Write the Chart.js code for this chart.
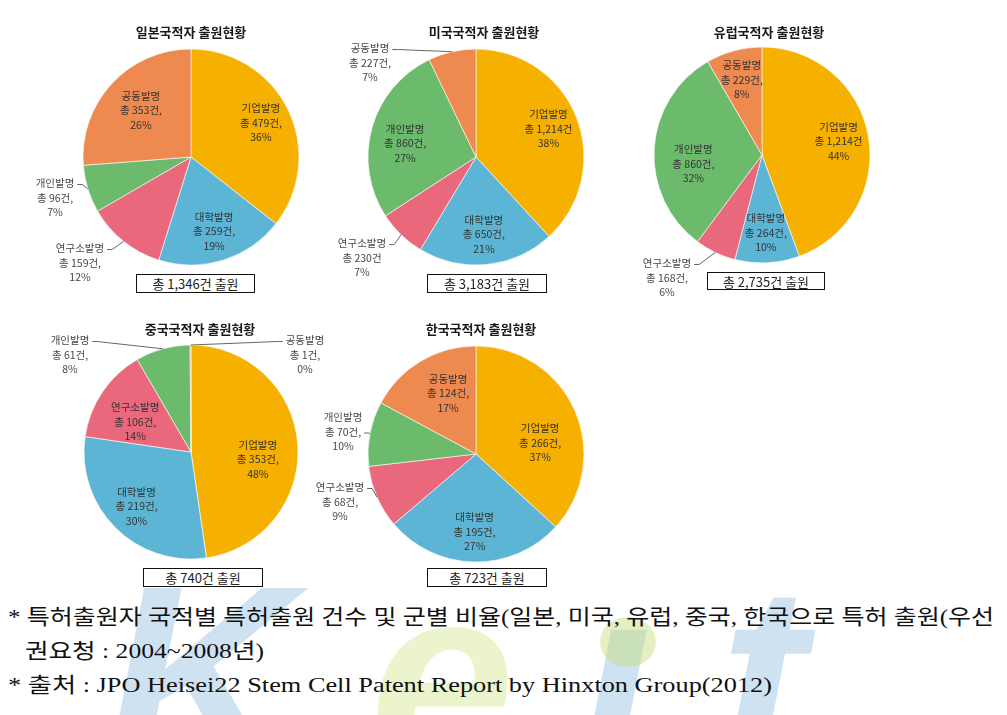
<!DOCTYPE html>
<html><head><meta charset="utf-8">
<script src="https://cdn.jsdelivr.net/npm/chart.js@4"></script>
<style>
body{margin:0;width:1007px;height:715px;background:#fff;position:relative;overflow:hidden;font-family:"Noto Sans CJK KR",sans-serif;}
canvas{position:absolute;z-index:2}
.box{position:absolute;border:1px solid #111;box-sizing:border-box;text-align:center;font-size:13px;color:#222;background:#fff;z-index:3;display:flex;align-items:center;justify-content:center;}
.cap{position:absolute;white-space:nowrap;font-family:"Liberation Serif","DejaVu Serif","Noto Sans CJK KR",serif;font-size:21px;line-height:24px;color:#111;transform-origin:0 0;z-index:3}
.wm{position:absolute;font-family:"Liberation Sans",sans-serif;font-weight:bold;font-style:italic;font-size:260px;line-height:260px;z-index:1}
</style></head>
<body>
<div class="wm" style="left:105px;top:547px;color:rgba(130,180,222,0.38)">K</div>
<div class="wm" style="left:370px;top:547px;color:rgba(205,228,130,0.4)">e</div>
<div class="wm" style="left:580px;top:547px;color:rgba(130,180,222,0.38)">ı</div>
<div style="position:absolute;z-index:1;left:600px;top:617px;width:56px;height:50px;border-radius:50%;background:rgba(195,222,120,0.45)"></div>
<div class="wm" style="left:720px;top:547px;color:rgba(130,180,222,0.38)">t</div>
<script>
// ---- data ----
const categories = ['기업발명','대학발명','연구소발명','개인발명','공동발명'];
const sliceColors = ['#F5B000','#5CB5D5','#E9687C','#6CBA6B','#EE8A4F'];
const chartTitles = ['일본국적자 출원현황','미국국적자 출원현황','유럽국적자 출원현황','중국국적자 출원현황','한국국적자 출원현황'];
const totalLabels = ['총 1,346건 출원','총 3,183건 출원','총 2,735건 출원','총 740건 출원','총 723건 출원'];
const japanValues = [479,259,159,96,353];
const japanPct = [36,19,12,7,26];
const usaValues = [1214,650,230,860,227];
const usaPct = [38,21,7,27,7];
const europeValues = [1214,264,168,860,229];
const europePct = [44,10,6,32,8];
const chinaValues = [353,219,106,61,1];
const chinaPct = [48,30,14,8,0];
const koreaValues = [266,195,68,70,124];
const koreaPct = [37,27,9,10,17];
const captionLines = [
  '* 특허출원자 국적별 특허출원 건수 및 군별 비율(일본, 미국, 유럽, 중국, 한국으로 특허 출원(우선',
  '권요청 : 2004~2008년)',
  '* 출처 : JPO Heisei22 Stem Cell Patent Report by Hinxton Group(2012)'
];

// ---- layout ----
const layouts = [
  {values:japanValues,pct:japanPct,x0:0,y0:0,w:330,h:300,cx:191,cy:157,r:108,titleY:32,titleDx:0,box:[136,274,119,19],
   sep:[',',',',',',',',','],outside:{3:[-136,41,0],2:[-111,106,0]},nudge:{4:[7,6]}},
  {values:usaValues,pct:usaPct,x0:330,y0:0,w:310,h:300,cx:476,cy:157,r:108,titleY:32,titleDx:8,box:[427,274,120,19],
   sep:['',',','',',',','],outside:{4:[-106,-94,0],2:[-114,101,0]},nudge:{3:[4,7]}},
  {values:europeValues,pct:europePct,x0:620,y0:0,w:387,h:300,cx:762,cy:155,r:108,titleY:32,titleDx:7,box:[707,272,118,18],
   sep:['',',',',',',',','],outside:{2:[-95,123,0]},nudge:{3:[9,13]}},
  {values:chinaValues,pct:chinaPct,x0:0,y0:300,w:330,h:300,cx:191,cy:452,r:107,titleY:329,titleDx:9,box:[143,568,120,19],
   sep:[',',',',',',',',','],outside:{3:[-121,-97,0],4:[114,-97,0]},nudge:{0:[-10,13],2:[8,13]}},
  {values:koreaValues,pct:koreaPct,x0:290,y0:300,w:350,h:300,cx:476,cy:454,r:108,titleY:329,titleDx:5,box:[427,568,120,19],
   sep:[',',',',',',',',','],outside:{3:[-133,-22,1],2:[-136,48,0]},nudge:{0:[-7,20],4:[12,6]}}
];

const LH = 14.5;
function makePlugin(L, title){
  return {
    id:'pieLabels',
    afterDraw(chart){
      const ctx = chart.ctx;
      const meta = chart.getDatasetMeta(0);
      ctx.save();
      const c0 = meta.data[0].getProps(['x','y'], true);
      ctx.textAlign='center'; ctx.textBaseline='middle';
      ctx.font = 'bold 13px "Noto Sans CJK KR"';
      ctx.fillStyle = '#1a1a1a';
      ctx.fillText(title, c0.x + L.titleDx, L.titleY - L.y0);
      ctx.font = '10.5px "Noto Sans CJK KR"';
      meta.data.forEach((arc,i)=>{
        const p = arc.getProps(['x','y','startAngle','endAngle','outerRadius'], true);
        const mid = (p.startAngle + p.endAngle)/2;
        const r = p.outerRadius;
        const v = chart.data.datasets[0].data[i];
        const lines = [chart.data.labels[i], '총 ' + v.toLocaleString('en-US') + '건' + L.sep[i], L.pct[i] + '%'];
        const out = L.outside[i];
        let bx, by;
        if(out){ bx = p.x + out[0]; by = p.y + out[1]; }
        else {
          bx = p.x + Math.cos(mid)*r*0.72; by = p.y + Math.sin(mid)*r*0.72;
          if(L.nudge[i]){ bx += L.nudge[i][0]; by += L.nudge[i][1]; }
        }
        ctx.fillStyle = out ? '#484848' : '#333';
        lines.forEach((t,j)=>ctx.fillText(t, bx, by + (j-1)*LH));
        if(out){
          const row = out[2];
          const w0 = ctx.measureText(lines[row]).width;
          const dir = out[0] < 0 ? 1 : -1;
          const ax = bx + dir*(w0/2 + 3), ay = by + (row-1)*LH + 1;
          const ex = p.x + Math.cos(mid)*r, ey = p.y + Math.sin(mid)*r;
          ctx.strokeStyle = '#666'; ctx.lineWidth = 1;
          ctx.beginPath(); ctx.moveTo(ax, ay); ctx.lineTo(ax + dir*5, ay); ctx.lineTo(ex, ey); ctx.stroke();
        }
      });
      ctx.restore();
    }
  };
}

layouts.forEach((L, k)=>{
  const cv = document.createElement('canvas');
  cv.width = L.w; cv.height = L.h;
  cv.style.left = L.x0 + 'px'; cv.style.top = L.y0 + 'px';
  cv.style.width = L.w + 'px'; cv.style.height = L.h + 'px';
  document.body.appendChild(cv);
  const bw = 1;
  const pad = {
    left: L.cx - L.r - L.x0 - bw/2,
    right: L.x0 + L.w - (L.cx + L.r) - bw/2,
    top: L.cy - L.r - L.y0 - bw/2,
    bottom: L.y0 + L.h - (L.cy + L.r) - bw/2
  };
  new Chart(cv, {
    type:'pie',
    data:{labels:categories, datasets:[{data:L.values, backgroundColor:sliceColors, borderColor:'rgba(255,255,255,0.6)', borderWidth:bw}]},
    options:{
      responsive:false, animation:false, devicePixelRatio:1,
      layout:{padding:pad},
      plugins:{legend:{display:false}, tooltip:{enabled:false}, title:{display:false}}
    },
    plugins:[makePlugin(L, chartTitles[k])]
  });
  const b = document.createElement('div');
  b.className = 'box';
  b.style.left = L.box[0]+'px'; b.style.top = L.box[1]+'px';
  b.style.width = L.box[2]+'px'; b.style.height = L.box[3]+'px';
  b.textContent = totalLabels[k];
  document.body.appendChild(b);
});

const capPos = [[8,605,986],[25,639,239],[8,673,764]];
captionLines.forEach((t,i)=>{
  const d = document.createElement('div');
  d.className = 'cap';
  d.textContent = t;
  d.style.left = capPos[i][0]+'px'; d.style.top = capPos[i][1]+'px';
  document.body.appendChild(d);
  const fit = ()=>{ d.style.transform='none'; const w = d.getBoundingClientRect().width; d.style.transform = 'scaleX(' + (capPos[i][2]/w) + ')'; };
  fit();
  if(document.fonts && document.fonts.ready) document.fonts.ready.then(fit);
});
</script>
</body></html>
